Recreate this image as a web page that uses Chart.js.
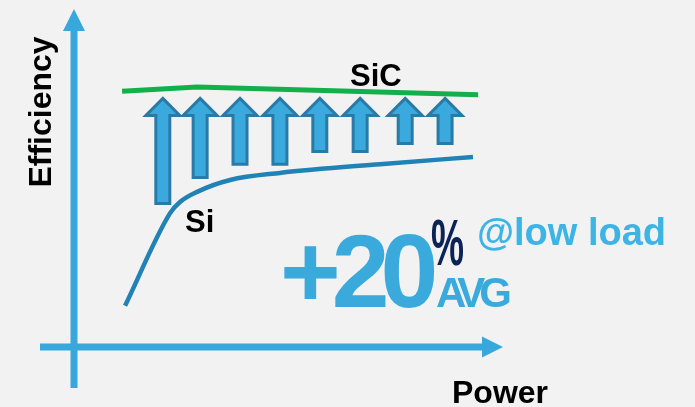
<!DOCTYPE html>
<html>
<head>
<meta charset="utf-8">
<script src="https://cdn.jsdelivr.net/npm/chart.js@4"></script>
<style>
  html, body { margin: 0; padding: 0; background: #f2f2f2; }
  #wrap { width: 695px; height: 407px; }
</style>
</head>
<body>
<div id="wrap"><canvas id="chart" width="695" height="407"></canvas></div>
<script>
// power (x) and efficiency (y), both on a 0-100 scale
const siPower = [11.9, 22.4, 24.7, 28.7, 36.4, 48.0, 71.3, 93.0];
const siEff = [12.2, 39.6, 42.9, 45.9, 49.4, 51.5, 54.1, 56.2];
const sicPower = [11.2, 28.7, 94.2];
const sicEff = [75.7, 76.9, 74.6];

// gain arrows: position, bottom (Si level) and top (SiC level)
const arrowPower = [20.7, 29.4, 38.7, 48.0, 57.3, 66.7, 77.2, 86.5];
const arrowLow = [42.0, 49.7, 53.6, 53.6, 57.4, 57.4, 59.8, 59.8];
const arrowHigh = [74.0, 74.0, 74.0, 74.0, 74.0, 74.0, 74.0, 74.0];

const axisBlue = "#38a8dc";

const pts = (xs, ys) => xs.map((x, i) => ({ x: x, y: ys[i] }));

// axes with arrowheads
const axesPlugin = {
  id: "axes",
  beforeDatasetsDraw(chart) {
    const { ctx, scales: { x, y } } = chart;
    const x0 = x.getPixelForValue(0), y0 = y.getPixelForValue(0);
    const xEnd = x.getPixelForValue(100), yEnd = y.getPixelForValue(100);
    ctx.save();
    ctx.strokeStyle = axisBlue;
    ctx.fillStyle = axisBlue;
    ctx.lineWidth = 7;
    ctx.beginPath();
    ctx.moveTo(x0, 388);
    ctx.lineTo(x0, yEnd + 18);
    ctx.moveTo(40, y0);
    ctx.lineTo(xEnd - 18, y0);
    ctx.stroke();
    // heads
    ctx.beginPath();
    ctx.moveTo(x0, yEnd);
    ctx.lineTo(x0 + 11, yEnd + 22);
    ctx.lineTo(x0 - 11, yEnd + 22);
    ctx.closePath();
    ctx.fill();
    ctx.beginPath();
    ctx.moveTo(xEnd, y0);
    ctx.lineTo(xEnd - 21, y0 - 10.5);
    ctx.lineTo(xEnd - 21, y0 + 10.5);
    ctx.closePath();
    ctx.fill();
    ctx.restore();
  }
};

// block arrows between Si and SiC, plus the text labels
const arrowsPlugin = {
  id: "arrows",
  afterDatasetsDraw(chart) {
    const { ctx, scales: { x, y } } = chart;
    ctx.save();
    ctx.lineWidth = 3;
    ctx.lineJoin = "miter";
    ctx.strokeStyle = "#2a7aa6";
    ctx.fillStyle = "#3aa9dd";
    arrowPower.forEach((p, i) => {
      const cx = x.getPixelForValue(p);
      const top = y.getPixelForValue(arrowHigh[i]) + 1.5;
      const bot = y.getPixelForValue(arrowLow[i]) - 1.5;
      const hw = 17, sw = 7, hh = 17;
      ctx.beginPath();
      ctx.moveTo(cx, top);
      ctx.lineTo(cx + hw, top + hh);
      ctx.lineTo(cx + sw, top + hh);
      ctx.lineTo(cx + sw, bot);
      ctx.lineTo(cx - sw, bot);
      ctx.lineTo(cx - sw, top + hh);
      ctx.lineTo(cx - hw, top + hh);
      ctx.closePath();
      ctx.fill();
      ctx.stroke();
    });

    ctx.textAlign = "left";
    ctx.textBaseline = "alphabetic";
    ctx.fillStyle = "#000";
    ctx.font = "bold 31px 'Liberation Sans', Arial, sans-serif";
    ctx.fillText("SiC", 350, 86);
    ctx.fillText("Si", 185, 232);
    ctx.font = "bold 32px 'Liberation Sans', Arial, sans-serif";
    ctx.fillText("Power", 452, 403);

    ctx.save();
    ctx.translate(51, 112);
    ctx.rotate(-Math.PI / 2);
    ctx.textAlign = "center";
    ctx.fillText("Efficiency", 0, 0);
    ctx.restore();

    // +20% AVG @low load
    ctx.fillStyle = "#3aaadc";
    ctx.font = "bold 104px 'Liberation Sans', Arial, sans-serif";
    ctx.letterSpacing = "-9px";
    ctx.fillText("+20", 280, 307);
    ctx.font = "bold 42px 'Liberation Sans', Arial, sans-serif";
    ctx.letterSpacing = "-6px";
    ctx.fillText("AVG", 436, 307);
    ctx.letterSpacing = "0px";

    ctx.save();
    ctx.fillStyle = "#0c2356";
    ctx.translate(431, 265);
    ctx.scale(0.58, 1);
    ctx.font = "bold 64px 'Liberation Sans', Arial, sans-serif";
    ctx.fillText("%", 0, 0);
    ctx.restore();

    ctx.fillStyle = "#3cb4e6";
    ctx.font = "bold 38px 'Liberation Sans', Arial, sans-serif";
    ctx.fillText("@low load", 477, 245);
    ctx.restore();
  }
};

new Chart(document.getElementById("chart"), {
  type: "line",
  data: {
    datasets: [
      {
        label: "SiC",
        data: pts(sicPower, sicEff),
        borderColor: "#12b04a",
        borderWidth: 5,
        pointRadius: 0,
        tension: 0
      },
      {
        label: "Si",
        data: pts(siPower, siEff),
        borderColor: "#2182b5",
        borderWidth: 4.5,
        pointRadius: 0,
        cubicInterpolationMode: "monotone"
      }
    ]
  },
  options: {
    responsive: false,
    animation: false,
    layout: { padding: { left: 74, right: 192, top: 9, bottom: 60 } },
    scales: {
      x: { type: "linear", min: 0, max: 100, display: false },
      y: { type: "linear", min: 0, max: 100, display: false }
    },
    plugins: {
      legend: { display: false },
      tooltip: { enabled: false }
    }
  },
  plugins: [axesPlugin, arrowsPlugin]
});
</script>
</body>
</html>
